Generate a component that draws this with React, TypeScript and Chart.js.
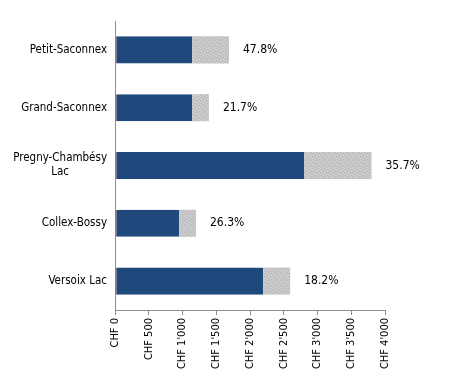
import React, { useEffect, useRef } from "react";
import { Chart, registerables } from "chart.js";

Chart.register(...registerables);

const categories: string[][] = [
  ["Petit-Saconnex"],
  ["Grand-Saconnex"],
  ["Pregny-Chambésy", "Lac"],
  ["Collex-Bossy"],
  ["Versoix Lac"],
];
const baseValues = [1143, 1141, 2800, 950, 2195];
const extraValues = [546, 250, 1000, 250, 400];
const pctLabels = ["47.8%", "21.7%", "35.7%", "26.3%", "18.2%"];
const tickValues = [0, 500, 1000, 1500, 2000, 2500, 3000, 3500, 4000];

const FONT = '"DejaVu Sans Condensed", "DejaVu Sans", sans-serif';

function fmt(v: number): string {
  const s = Math.round(v).toString();
  return "CHF " + s.replace(/\B(?=(\d{3})+(?!\d))/g, "'");
}

function makePattern(): CanvasPattern | string {
  const c = document.createElement("canvas");
  c.width = 6;
  c.height = 6;
  const ctx = c.getContext("2d");
  if (!ctx) return "#c4c4c4";
  ctx.fillStyle = "#c6c6c6";
  ctx.fillRect(0, 0, 6, 6);
  ctx.fillStyle = "#b2b2b2";
  [[0, 0], [3, 1], [1, 3], [4, 4], [5, 2], [2, 5]].forEach(([x, y]) => ctx.fillRect(x, y, 1, 1));
  ctx.fillStyle = "#d6d6d6";
  [[2, 0], [5, 1], [0, 2], [3, 3], [1, 5], [4, 5]].forEach(([x, y]) => ctx.fillRect(x, y, 1, 1));
  const p = ctx.createPattern(c, "repeat");
  return p || "#c4c4c4";
}

export default function App() {
  const ref = useRef<HTMLCanvasElement | null>(null);
  useEffect(() => {
    if (!ref.current) return;
    const labelPlugin = {
      id: "customLabels",
      afterDatasetsDraw(chart: any) {
        const ctx = chart.ctx;
        const x = chart.scales.x;
        const y = chart.scales.y;
        ctx.save();
        ctx.fillStyle = "#000000";
        ctx.textBaseline = "middle";
        ctx.font = "12px " + FONT;
        ctx.textAlign = "left";
        pctLabels.forEach((t, i) => {
          const end = x.getPixelForValue(baseValues[i] + extraValues[i]);
          const cy = y.getPixelForValue(i);
          ctx.fillText(t, end + 14, cy);
        });
        ctx.font = "11.5px " + FONT;
        ctx.textAlign = "center";
        const rightEdge = chart.chartArea.left - 8;
        categories.forEach((lines, i) => {
          const cy = y.getPixelForValue(i);
          let maxW = 0;
          lines.forEach((l) => (maxW = Math.max(maxW, ctx.measureText(l).width)));
          const cx = rightEdge - maxW / 2;
          const lh = 14;
          const startY = cy - ((lines.length - 1) * lh) / 2;
          lines.forEach((l, j) => ctx.fillText(l, cx, startY + j * lh));
        });
        ctx.restore();
      },
    };
    const chart = new Chart(ref.current, {
      type: "bar",
      data: {
        labels: categories.map((c) => c.join(" ")),
        datasets: [
          {
            data: baseValues,
            backgroundColor: "#1F497D",
            borderColor: "#C0504D",
            borderWidth: { left: 1, top: 0, right: 0, bottom: 0 },
            borderSkipped: false,
            barPercentage: 0.468,
            categoryPercentage: 1,
          },
          {
            data: extraValues,
            backgroundColor: makePattern() as any,
            barPercentage: 0.468,
            categoryPercentage: 1,
          },
        ],
      },
      options: {
        indexAxis: "y",
        animation: false,
        responsive: false,
        maintainAspectRatio: false,
        layout: { padding: { top: 21, right: 64, left: 0, bottom: 0 } },
        plugins: {
          legend: { display: false },
          tooltip: { enabled: false },
        },
        scales: {
          x: {
            stacked: true,
            min: 0,
            max: 4000,
            afterBuildTicks: (scale: any) => {
              scale.ticks = tickValues.map((v) => ({ value: v }));
            },
            afterFit: (scale: any) => {
              scale.height = 68;
            },
            border: { display: true, color: "#8c8c8c", width: 1 },
            grid: {
              display: true,
              drawOnChartArea: false,
              drawTicks: true,
              tickLength: 5,
              color: "#8c8c8c",
            },
            ticks: {
              minRotation: 90,
              maxRotation: 90,
              autoSkip: false,
              padding: 3,
              color: "#000000",
              font: { family: FONT, size: 11 },
              callback: (v: any) => fmt(Number(v)),
            },
          },
          y: {
            stacked: true,
            afterFit: (scale: any) => {
              scale.width = 115;
            },
            border: { display: true, color: "#8c8c8c", width: 1 },
            grid: { display: false },
            ticks: { display: false },
          },
        },
      },
      plugins: [labelPlugin],
    });
    return () => chart.destroy();
  }, []);
  return (
    <div style={{ position: "fixed", left: 0, top: 0, width: 449, height: 378, background: "#fff" }}>
      <canvas ref={ref} width={449} height={378} style={{ width: 449, height: 378, display: "block" }} />
    </div>
  );
}
